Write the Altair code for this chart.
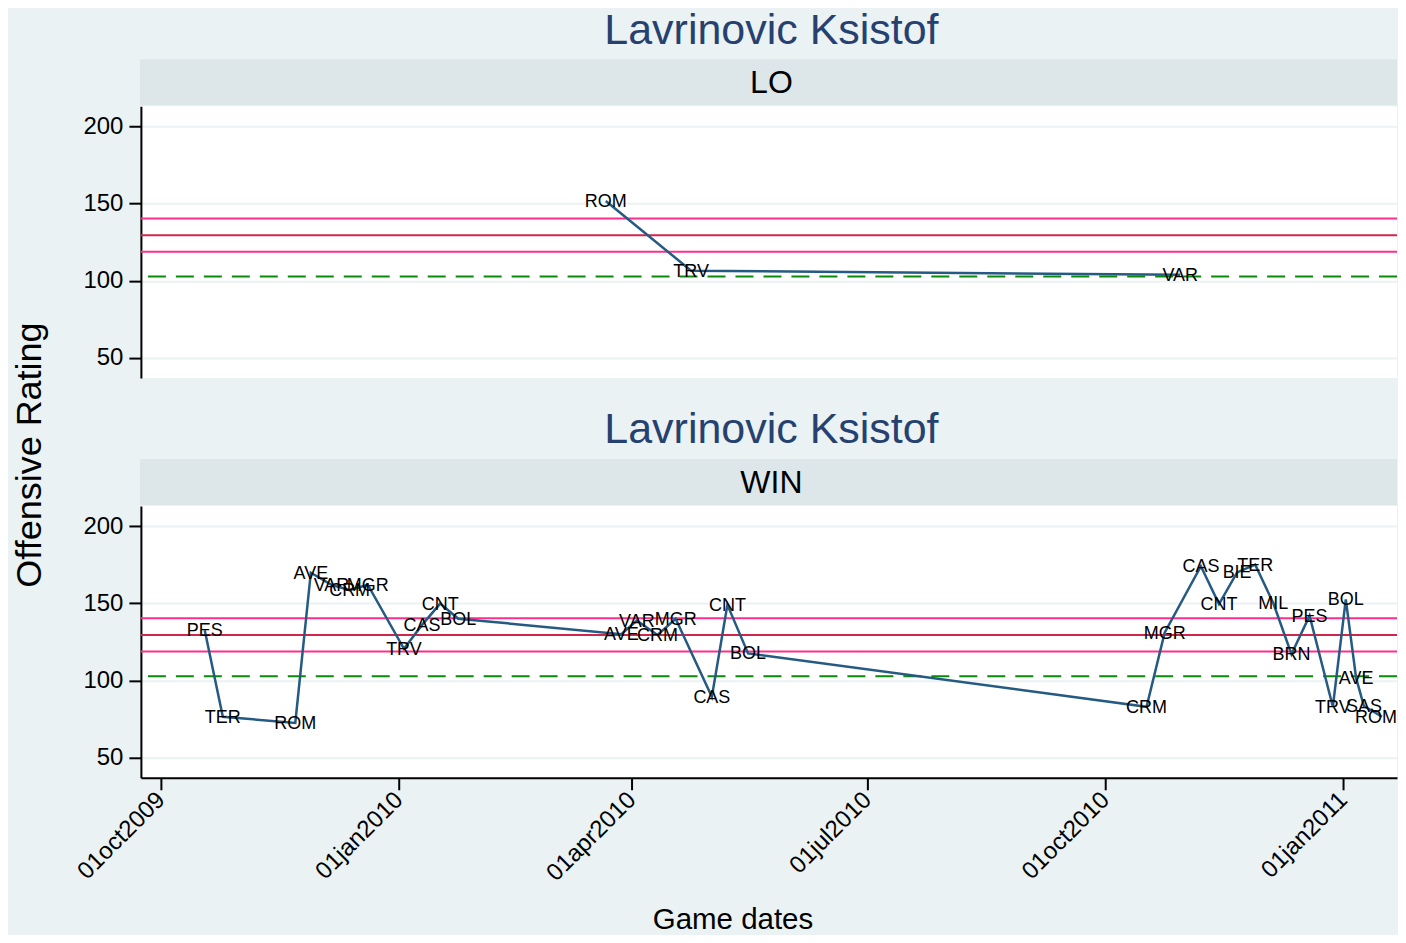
import altair as alt
import pandas as pd

# ---- data ----
win_dates = ["2009-10-18", "2009-10-25", "2009-11-22", "2009-11-28", "2009-12-06",
             "2009-12-13", "2009-12-20", "2010-01-03", "2010-01-10", "2010-01-17",
             "2010-01-24", "2010-03-28", "2010-04-03", "2010-04-11", "2010-04-18",
             "2010-05-02", "2010-05-08", "2010-05-16", "2010-10-17", "2010-10-24",
             "2010-11-07", "2010-11-14", "2010-11-21", "2010-11-28", "2010-12-05",
             "2010-12-12", "2010-12-19", "2010-12-28", "2011-01-02", "2011-01-06",
             "2011-01-09", "2011-01-16"]
win_teams = ["PES", "TER", "ROM", "AVE", "VAR", "CRM", "MGR", "TRV", "CAS", "CNT",
             "BOL", "AVE", "VAR", "CRM", "MGR", "CAS", "CNT", "BOL", "CRM", "MGR",
             "CAS", "CNT", "BIE", "TER", "MIL", "BRN", "PES", "TRV", "BOL", "AVE",
             "SAS", "ROM"]
win_ratings = [132.5, 76.5, 72.5, 169.8, 162.0, 158.5, 162.0, 120.5, 136.0, 149.8,
               140.0, 130.0, 138.8, 129.5, 140.0, 89.5, 149.0, 117.5, 83.0, 131.0,
               174.0, 149.5, 170.0, 175.0, 150.0, 117.0, 142.0, 83.0, 152.5, 101.5,
               83.5, 76.5]

lo_dates = ["2010-03-22", "2010-04-24", "2010-10-30"]
lo_teams = ["ROM", "TRV", "VAR"]
lo_ratings = [151.7, 106.5, 103.9]

band_upper = 140.3
band_mean = 129.5
band_lower = 118.8
league_avg = 102.8

player = "Lavrinovic Ksistof"
panels = ["LO", "WIN"]
y_ticks = [50, 100, 150, 200]
x_tick_dates = [(2009, 10), (2010, 1), (2010, 4), (2010, 7), (2010, 10), (2011, 1)]

# ---- styling ----
W, H = 1257, 272
FONT = "Liberation Sans"
BG = "#eaf2f3"
STRIP = "#dde7ea"
NAVY = "#26416f"
LINE = "#255a82"
PINK = "#ff2e8a"
RED = "#d0264c"
GREEN = "#0a8a0a"

xscale = alt.Scale(type="utc", domain=[
    alt.DateTime(year=2009, month=9, date=23, hours=8, utc=True),
    alt.DateTime(year=2011, month=1, date=21, hours=19, utc=True)])
yscale = alt.Scale(domain=[37, 213], nice=False, zero=False)

yaxis = alt.Axis(values=y_ticks, labelFontSize=24, labelColor="black", labelPadding=6,
                 tickSize=12, tickWidth=2, tickColor="black",
                 domainColor="black", domainWidth=2,
                 grid=True, gridColor=BG, gridWidth=2, title=None)

xaxis = alt.Axis(values=[alt.DateTime(year=y, month=m, date=1, utc=True) for y, m in x_tick_dates],
                 labelExpr="lower(utcFormat(datum.value, '%d%b%Y'))",
                 labelAngle=-45, labelAlign="right", labelBaseline="middle",
                 labelFontSize=24, labelColor="black", labelPadding=6,
                 tickSize=12, tickWidth=2, tickColor="black",
                 domainColor="black", domainWidth=2, grid=False,
                 title="Game dates", titleFontSize=29.5, titleFontWeight="normal",
                 titleColor="black", titleX=592, titleY=151,
                 titleAlign="center", titleBaseline="alphabetic")


def panel(dates, teams, ratings, strip_label, bottom):
    df = pd.DataFrame({"date": dates, "team": teams, "rating": ratings})
    df["edge"] = [i == len(df) - 1 and bottom for i in range(len(df))]
    x = alt.X("date:T", scale=xscale, axis=xaxis if bottom else None)
    y = alt.Y("rating:Q", scale=yscale, axis=yaxis)

    def rule(v, color, dash=None):
        kw = dict(color=color, strokeWidth=2)
        if dash:
            kw["strokeDash"] = dash
        return alt.Chart(pd.DataFrame({"v": [v]})).mark_rule(**kw).encode(
            y=alt.Y("v:Q", scale=yscale, axis=yaxis))

    lbl = pd.DataFrame({"t": [strip_label], "title": [player]})
    strip = alt.Chart(lbl).mark_rect(color=STRIP).encode(
        x=alt.value(-1), x2=alt.value(W), y=alt.value(-47), y2=alt.value(-1))
    strip_txt = alt.Chart(lbl).mark_text(fontSize=32, font=FONT, color="black",
                                         align="center", baseline="alphabetic").encode(
        x=alt.value(631), y=alt.value(-13), text="t:N")
    title_txt = alt.Chart(lbl).mark_text(fontSize=43, font=FONT, color=NAVY,
                                         align="center", baseline="alphabetic").encode(
        x=alt.value(631), y=alt.value(-62.7), text="title:N")

    base = alt.Chart(df)
    line = base.mark_line(color=LINE, strokeWidth=2.5).encode(x=x, y=y, order="date:T")
    text = base.transform_filter("!datum.edge").mark_text(
        fontSize=18, font=FONT, color="black", align="center",
        baseline="middle", dy=1).encode(x=x, y=y, text="team:N")
    text_edge = base.transform_filter("datum.edge").mark_text(
        fontSize=18, font=FONT, color="black", align="center",
        baseline="middle", dy=1, dx=-6).encode(x=x, y=y, text="team:N")

    layers = [strip, strip_txt, title_txt,
              rule(band_upper, PINK), rule(band_lower, PINK), rule(band_mean, RED),
              rule(league_avg, GREEN, [18, 10]),
              line, text, text_edge]
    if bottom:
        ytitle = alt.Chart(pd.DataFrame({"t": ["Offensive Rating"]})).mark_text(
            fontSize=36, font=FONT, color="black", angle=270,
            align="center", baseline="middle").encode(
            x=alt.value(-111), y=alt.value(-51), text="t:N")
        layers.append(ytitle)
    return alt.layer(*layers).properties(width=W, height=H)


top = panel(lo_dates, lo_teams, lo_ratings, panels[0], False)
bot = panel(win_dates, win_teams, win_ratings, panels[1], True)

chart = alt.vconcat(top, bot, spacing=128, bounds="flush").properties(
    padding={"left": 4, "top": 1, "right": 0, "bottom": 0}
).configure(background=BG, font=FONT).configure_view(fill="white", strokeWidth=0) \
 .configure_axis(labelFont=FONT, titleFont=FONT)

chart.save("out.html", embed_options={"renderer": "svg", "actions": False})
